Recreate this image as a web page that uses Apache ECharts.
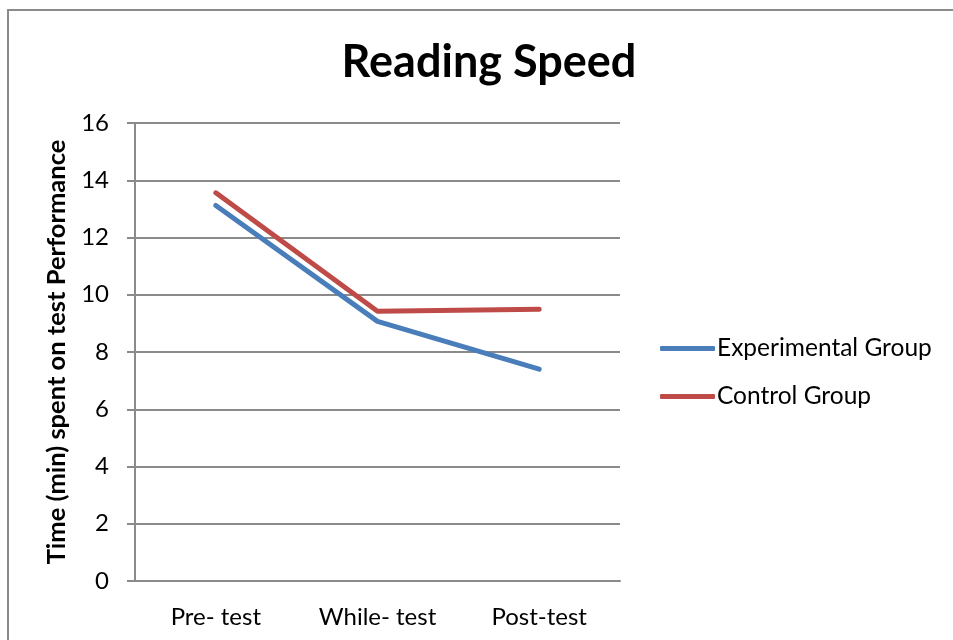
<!DOCTYPE html>
<html>
<head>
<meta charset="utf-8">
<script src="https://cdn.jsdelivr.net/npm/echarts@6/dist/echarts.min.js"></script>
<style>
  html, body { margin: 0; padding: 0; background: #fff; }
  #chart { width: 953px; height: 640px; }
</style>
</head>
<body>
<div id="chart"></div>
<script>
// Test phases on the category axis
const phases = ['Pre- test', 'While- test', 'Post-test'];
// Minutes spent on the test, per group
const experimentalGroup = [13.12, 9.07, 7.40];
const controlGroup = [13.56, 9.42, 9.49];
// Value axis ticks
const yTicks = [0, 2, 4, 6, 8, 10, 12, 14, 16];

const FONT = 'Lato, "Open Sans", sans-serif';

const chart = echarts.init(document.getElementById('chart'));
chart.setOption({
  backgroundColor: '#ffffff',
  animation: false,
  textStyle: { fontFamily: FONT, color: '#000' },
  graphic: [{
    type: 'rect',
    shape: { x: 8, y: 10, width: 1200, height: 900 },
    style: { fill: 'none', stroke: '#8a8a8a', lineWidth: 2 },
    silent: true
  }],
  title: {
    text: 'Reading Speed',
    left: 484,
    textAlign: 'center',
    top: 35,
    textStyle: { fontFamily: FONT, fontSize: 45, fontWeight: 'bold', color: '#000' }
  },
  legend: {
    orient: 'vertical',
    left: 660,
    top: 336,
    padding: 0,
    itemWidth: 55,
    itemHeight: 5,
    itemGap: 23,
    icon: 'roundRect',
    textStyle: { fontFamily: FONT, fontSize: 24.5, color: '#000', padding: [0, 0, 0, -3] },
    data: ['Experimental Group', 'Control Group']
  },
  grid: { left: 135, top: 123, right: 333, bottom: 59, containLabel: false },
  xAxis: {
    type: 'category',
    data: phases,
    boundaryGap: true,
    axisLine: { lineStyle: { color: '#8a8a8a', width: 2 } },
    axisTick: { show: false },
    axisLabel: { fontFamily: FONT, fontSize: 24, color: '#000', margin: 24 }
  },
  yAxis: {
    type: 'value',
    min: yTicks[0],
    max: yTicks[yTicks.length - 1],
    interval: yTicks[1] - yTicks[0],
    name: 'Time (min) spent on test Performance',
    nameLocation: 'middle',
    nameGap: 56,
    nameRotate: 90,
    nameTextStyle: { fontFamily: FONT, fontSize: 25.5, fontWeight: 'bold', color: '#000' },
    axisLine: { show: true, lineStyle: { color: '#8a8a8a', width: 2 } },
    axisTick: { show: true, inside: false, length: 8, lineStyle: { color: '#8a8a8a', width: 2 } },
    axisLabel: { fontFamily: FONT, fontSize: 24, color: '#000', margin: 26 },
    splitLine: { show: true, lineStyle: { color: '#8a8a8a', width: 2 } }
  },
  series: [
    {
      name: 'Experimental Group',
      type: 'line',
      data: experimentalGroup,
      symbol: 'none',
      color: '#4a7ebb',
      lineStyle: { width: 5, color: '#4a7ebb', cap: 'round' }
    },
    {
      name: 'Control Group',
      type: 'line',
      data: controlGroup,
      symbol: 'none',
      color: '#be4b48',
      lineStyle: { width: 5, color: '#be4b48', cap: 'round' }
    }
  ]
});
</script>
</body>
</html>
